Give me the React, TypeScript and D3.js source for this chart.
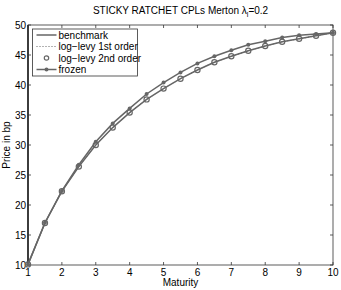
import React, { useRef, useEffect } from "react";
import * as d3 from "d3";

const maturities = [1, 1.5, 2, 2.5, 3, 3.5, 4, 4.5, 5, 5.5, 6, 6.5, 7, 7.5, 8, 8.5, 9, 9.5, 10];
const benchmark = [10.1, 17.0, 22.3, 26.4, 30.0, 32.9, 35.4, 37.6, 39.4, 41.05, 42.5, 43.8, 44.8, 45.7, 46.5, 47.2, 47.7, 48.2, 48.7];
const logLevy1 = [10.1, 17.0, 22.3, 26.4, 30.0, 32.9, 35.4, 37.6, 39.4, 41.05, 42.5, 43.8, 44.8, 45.7, 46.5, 47.2, 47.7, 48.2, 48.7];
const logLevy2 = [10.1, 17.0, 22.3, 26.4, 30.0, 32.9, 35.4, 37.6, 39.4, 41.05, 42.5, 43.8, 44.8, 45.7, 46.5, 47.2, 47.7, 48.2, 48.7];
const frozen = [10.1, 17.05, 22.35, 26.7, 30.55, 33.6, 36.1, 38.5, 40.4, 42.1, 43.6, 44.8, 45.8, 46.7, 47.3, 47.9, 48.3, 48.5, 48.7];
const xTicks = [1, 2, 3, 4, 5, 6, 7, 8, 9, 10];
const yTicks = [10, 15, 20, 25, 30, 35, 40, 45, 50];
const legendLabels = ["benchmark", "log\u2212levy 1st order", "log\u2212levy 2nd order", "frozen"];

const App = () => {
  const svgRef = useRef<SVGSVGElement>(null);

  useEffect(() => {
    const svg = d3.select(svgRef.current);
    svg.selectAll("*").remove();

    const width = 341;
    const height = 290;
    const margin = { top: 25, right: 8, bottom: 25, left: 28 };
    const font = "Liberation Sans, Arial, sans-serif";
    const lineColor = "#666666";

    const x = d3.scaleLinear().domain([1, 10]).range([margin.left, width - margin.right]);
    const y = d3.scaleLinear().domain([10, 50]).range([height - margin.bottom, margin.top]);

    svg.append("rect").attr("width", width).attr("height", height).attr("fill", "#fff");

    // box + ticks (matlab style, inward)
    const g = svg.append("g");
    g.append("rect")
      .attr("x", x(1)).attr("y", y(50))
      .attr("width", x(10) - x(1)).attr("height", y(10) - y(50))
      .attr("fill", "none").attr("stroke", "#333").attr("stroke-width", 0.8);
    g.append("line").attr("x1", x(1)).attr("x2", x(1)).attr("y1", y(50)).attr("y2", y(10))
      .attr("stroke", "#000").attr("stroke-width", 1.3);

    const tl = 3;
    xTicks.forEach((t) => {
      g.append("line").attr("x1", x(t)).attr("x2", x(t)).attr("y1", y(10)).attr("y2", y(10) - tl).attr("stroke", "#333").attr("stroke-width", 0.8);
      g.append("line").attr("x1", x(t)).attr("x2", x(t)).attr("y1", y(50)).attr("y2", y(50) + tl).attr("stroke", "#333").attr("stroke-width", 0.8);
      g.append("text").attr("x", x(t)).attr("y", y(10) + 10.5).attr("text-anchor", "middle")
        .attr("font-family", font).attr("font-size", 10).text(t);
    });
    yTicks.forEach((t) => {
      g.append("line").attr("x1", x(1)).attr("x2", x(1) + tl).attr("y1", y(t)).attr("y2", y(t)).attr("stroke", "#333").attr("stroke-width", 0.8);
      g.append("line").attr("x1", x(10)).attr("x2", x(10) - tl).attr("y1", y(t)).attr("y2", y(t)).attr("stroke", "#333").attr("stroke-width", 0.8);
      g.append("text").attr("x", x(1) - 2).attr("y", y(t) + 3.5).attr("text-anchor", "end")
        .attr("font-family", font).attr("font-size", 10).text(t);
    });

    const line = d3.line<number>().x((d, i) => x(maturities[i])).y((d) => y(d));

    // benchmark
    svg.append("path").attr("d", line(benchmark)).attr("fill", "none").attr("stroke", lineColor).attr("stroke-width", 1.5);
    // log-levy 1st order (dotted)
    svg.append("path").attr("d", line(logLevy1)).attr("fill", "none").attr("stroke", lineColor).attr("stroke-width", 1).attr("stroke-dasharray", "1,2");
    // log-levy 2nd order (circles)
    svg.append("g").selectAll("circle").data(logLevy2).join("circle")
      .attr("cx", (d, i) => x(maturities[i])).attr("cy", (d) => y(d)).attr("r", 2.6)
      .attr("fill", "none").attr("stroke", lineColor).attr("stroke-width", 1.2);
    // frozen
    svg.append("path").attr("d", line(frozen)).attr("fill", "none").attr("stroke", lineColor).attr("stroke-width", 1.5);
    svg.append("g").selectAll("circle").data(frozen).join("circle")
      .attr("cx", (d, i) => x(maturities[i])).attr("cy", (d) => y(d)).attr("r", 2)
      .attr("fill", lineColor);

    // legend
    const lg = svg.append("g").attr("transform", `translate(${x(1) + 4.5},${y(50) + 4})`);
    lg.append("rect").attr("width", 105).attr("height", 47).attr("fill", "#fff").attr("stroke", "#333").attr("stroke-width", 0.8);
    legendLabels.forEach((label, i) => {
      const ry = 6 + i * 11.5;
      const row = lg.append("g").attr("transform", `translate(0,${ry})`);
      if (i === 0) {
        row.append("line").attr("x1", 4).attr("x2", 24).attr("stroke", lineColor).attr("stroke-width", 1.5);
      } else if (i === 1) {
        row.append("line").attr("x1", 4).attr("x2", 24).attr("stroke", lineColor).attr("stroke-width", 1).attr("stroke-dasharray", "1,2");
      } else if (i === 2) {
        row.append("circle").attr("cx", 14).attr("r", 2.2).attr("fill", "none").attr("stroke", lineColor).attr("stroke-width", 1.2);
      } else {
        row.append("line").attr("x1", 4).attr("x2", 24).attr("stroke", lineColor).attr("stroke-width", 1.5);
        row.append("circle").attr("cx", 14).attr("r", 2).attr("fill", lineColor);
      }
      row.append("text").attr("x", 26).attr("y", 3.5).attr("font-family", font).attr("font-size", 10).text(label);
    });

    // title
    const title = svg.append("text").attr("x", (x(1) + x(10)) / 2).attr("y", 14).attr("text-anchor", "middle")
      .attr("font-family", font).attr("font-size", 10);
    title.append("tspan").text("STICKY RATCHET CPLs Merton \u03bb");
    title.append("tspan").attr("font-size", 7).attr("dy", 3).text("l");
    title.append("tspan").attr("dy", -3).text("=0.2");

    // axis labels
    svg.append("text").attr("x", (x(1) + x(10)) / 2).attr("y", 286).attr("text-anchor", "middle")
      .attr("font-family", font).attr("font-size", 10).text("Maturity");
    svg.append("text").attr("transform", `translate(10,${(y(10) + y(50)) / 2}) rotate(-90)`).attr("text-anchor", "middle")
      .attr("font-family", font).attr("font-size", 10).text("Price in bp");
  }, []);

  return <svg ref={svgRef} width={341} height={290} style={{ position: "absolute", left: 0, top: 0 }}></svg>;
};

export default App;
